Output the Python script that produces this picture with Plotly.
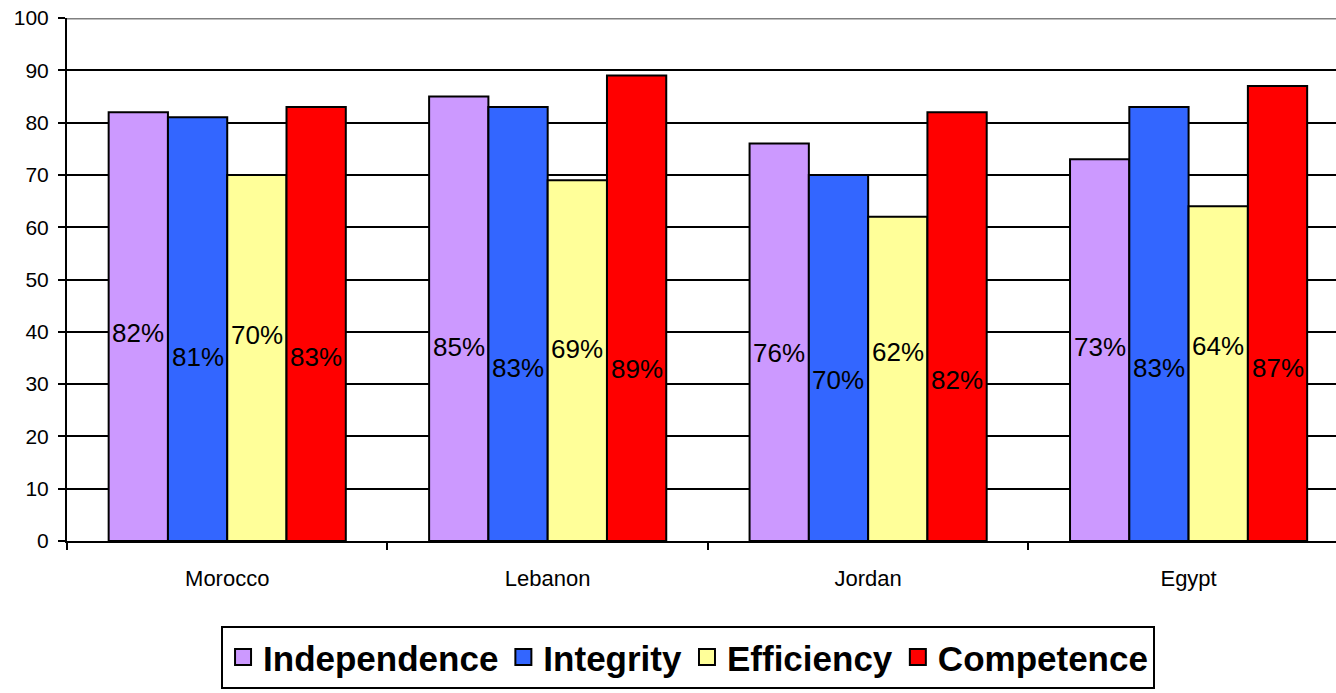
import plotly.graph_objects as go

# Survey results by country (percent)
countries = ["Morocco", "Lebanon", "Jordan", "Egypt"]
series_names = ["Independence", "Integrity", "Efficiency", "Competence"]
independence = [82, 85, 76, 73]
integrity = [81, 83, 70, 83]
efficiency = [70, 69, 62, 64]
competence = [83, 89, 82, 87]
y_ticks = [0, 10, 20, 30, 40, 50, 60, 70, 80, 90, 100]

# heights at which the percentage labels sit inside each bar
label_y_independence = [39.8, 37.1, 36.0, 37.1]
label_y_integrity = [35.2, 33.1, 30.8, 33.1]
label_y_efficiency = [39.4, 36.7, 36.1, 37.3]
label_y_competence = [35.2, 32.9, 30.8, 33.1]

colors = ["#CC99FF", "#3366FF", "#FFFF99", "#FF0000"]
values = [independence, integrity, efficiency, competence]
label_ys = [label_y_independence, label_y_integrity, label_y_efficiency, label_y_competence]

BARGAP = 0.26
x_idx = list(range(len(countries)))

fig = go.Figure()
for name, vals, col in zip(series_names, values, colors):
    fig.add_trace(go.Bar(
        x=x_idx, y=vals, name=name, showlegend=False,
        marker=dict(color=col, line=dict(color="black", width=2)),
    ))

# legend entries with larger square swatches
for name, col in zip(series_names, colors):
    fig.add_trace(go.Scatter(
        x=[None], y=[None], mode="markers", name=name,
        marker=dict(symbol="square", size=16, color=col,
                    line=dict(color="black", width=2)),
    ))

# percentage labels centred on each bar
n = len(series_names)
bar_w = (1 - BARGAP) / n
annotations = []
for k, (vals, ys) in enumerate(zip(values, label_ys)):
    off = -(1 - BARGAP) / 2 + bar_w * (k + 0.5)
    for i, (v, yy) in enumerate(zip(vals, ys)):
        annotations.append(dict(
            x=i + off, y=yy, xref="x", yref="y", text=f"{v}%",
            showarrow=False, font=dict(family="Arial", size=26, color="black"),
        ))

# top border of the plot area
shapes = [dict(type="line", xref="paper", yref="y", x0=0, x1=1, y0=100, y1=100,
               line=dict(color="#808080", width=3), layer="above")]

fig.update_layout(
    width=1336, height=693,
    margin=dict(l=67, r=0, t=18, b=152),
    paper_bgcolor="white", plot_bgcolor="white",
    barmode="group", bargap=BARGAP, bargroupgap=0,
    font=dict(family="Arial", color="black"),
    annotations=annotations, shapes=shapes,
    xaxis=dict(
        range=[-0.5, 3.46],
        tickmode="array", tickvals=x_idx, ticktext=countries,
        ticks="", showgrid=False, ticklabelstandoff=17,
        tickfont=dict(family="Arial", size=22, color="black"),
        showline=True, linecolor="black", linewidth=2,
        minor=dict(tickmode="array", tickvals=[-0.5, 0.5, 1.5, 2.5],
                   ticks="outside", ticklen=7, tickwidth=2, tickcolor="black",
                   showgrid=False),
        zeroline=False, fixedrange=True,
    ),
    yaxis=dict(
        range=[0, 100], tickmode="array", tickvals=y_ticks,
        ticks="outside", ticklen=7, tickwidth=2, tickcolor="black",
        tickfont=dict(family="Arial", size=21, color="black"),
        ticklabelstandoff=5,
        showgrid=True, gridcolor="black", gridwidth=2,
        showline=True, linecolor="black", linewidth=2,
        zeroline=False, fixedrange=True,
    ),
    legend=dict(
        orientation="h", xref="container", yref="container",
        x=0.515, xanchor="center", y=0.097, yanchor="top",
        font=dict(family="Arial", size=35, color="black", weight="bold"),
        bordercolor="black", borderwidth=2, bgcolor="white",
        itemsizing="trace", traceorder="normal",
    ),
    showlegend=True,
)

fig.write_html("out.html")
